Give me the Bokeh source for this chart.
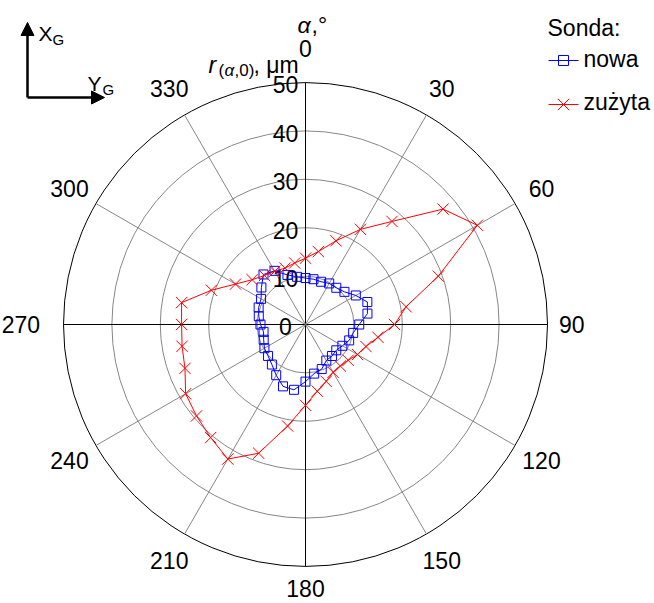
import numpy as np
from bokeh.plotting import figure
from bokeh.models import Arrow, NormalHead
from bokeh.core.properties import value
from bokeh.embed import file_html
from bokeh.resources import INLINE

# ---------------- data ----------------
angles_deg = list(range(0, 360, 10))
r_nowa = [9.6, 9.5, 9.4, 9.8, 9.9, 10.5, 12.0, 13.6, 13.0, 11.1, 10.0, 9.6,
          8.8, 8.3, 8.5, 8.6, 9.8, 10.3, 11.8, 13.7, 13.6, 12.1, 10.8, 10.1,
          9.8, 9.2, 8.8, 9.3, 9.8, 10.3, 10.6, 11.9, 13.5, 12.8, 10.9, 10.0]
r_zuzyta = [13.7, 15.3, 18.4, 22.7, 27.8, 37.1, 41.0, 29.2, 21.1, 18.4, 15.2, 13.3,
            12.4, 11.5, 11.2, 11.4, 12.5, 14.0, 16.7, 21.3, 28.3, 32.1, 30.5, 29.4,
            28.6, 26.5, 25.9, 25.6, 26.0, 20.7, 16.7, 14.4, 13.2, 12.7, 12.4, 12.9]
angle_ticks = [0, 30, 60, 90, 120, 150, 180, 210, 240, 270, 300, 330]
radial_ticks = [0, 10, 20, 30, 40, 50]
series_names = ["nowa", "zużyta"]
legend_title = "Sonda:"

# ---------------- layout ----------------
W, H = 654, 603
CX, CY = 305.0, 324.0      # pixel of the pole
S = 4.84                   # pixels per micrometre
FONT = value("Liberation Sans")
GRID = "#878787"


def px(x, y):
    return (x - CX) / S, (CY - y) / S


def pol(r, deg):
    t = np.radians(np.asarray(deg, dtype=float))
    r = np.asarray(r, dtype=float)
    return r * np.sin(t), r * np.cos(t)


p = figure(width=W, height=H, output_backend="svg", toolbar_location=None,
           x_range=(-CX / S, (W - CX) / S),
           y_range=((CY - H) / S, CY / S),
           x_axis_location=None, y_axis_location=None,
           min_border=0, outline_line_color=None)
p.xgrid.visible = False
p.ygrid.visible = False

rmax = radial_ticks[-1]
inner = radial_ticks[1:-1]
p.circle(x=[0] * len(inner), y=[0] * len(inner), radius=inner,
         fill_color=None, line_color=GRID, line_width=1)
p.circle(x=[0], y=[0], radius=[rmax], fill_color=None, line_color="black", line_width=1)

for a in angle_ticks:
    ex, ey = pol(rmax, a)
    col = "black" if a % 90 == 0 else GRID
    p.line([0, float(ex)], [0, float(ey)], line_color=col, line_width=1)

# angle labels
lab_r = {0: 57.0, 90: 55.0, 180: 54.6, 270: 58.8}
for a in angle_ticks:
    rr = lab_r.get(a, 56.3)
    lx, ly = pol(rr, a)
    p.text(x=[float(lx)], y=[float(ly)], text=[str(a)], text_font=FONT,
           text_font_size="23px", text_align="center", text_baseline="middle",
           text_color="black")

# radial labels
lx0 = (285 - CX) / S
p.text(x=[lx0] * len(radial_ticks), y=[t - 0.5 for t in radial_ticks],
       text=[str(t) for t in radial_ticks], text_font=FONT, text_font_size="23px",
       text_align="center", text_baseline="middle", text_color="black")

# series
a_closed = angles_deg + [angles_deg[0]]
bx, by = pol(r_nowa + [r_nowa[0]], a_closed)
rx, ry = pol(r_zuzyta + [r_zuzyta[0]], a_closed)
p.line(bx, by, line_color="#0000ff", line_width=1)
p.scatter(bx[:-1], by[:-1], marker="square", size=9, fill_color=None,
          line_color="#0000ff", line_width=1)
p.line(rx, ry, line_color="#ff0000", line_width=1)
p.scatter(rx[:-1], ry[:-1], marker="x", size=16, line_color="#ff0000", line_width=1)


def txt(x, y, s, size="23px", style="normal", align="left"):
    dx, dy = px(x, y)
    p.text(x=[dx], y=[dy], text=[s], text_font=FONT, text_font_size=size,
           text_font_style=style, text_align=align, text_baseline="middle",
           text_color="black")


# axis titles (y = visual middle)
txt(297, 24, "α", style="italic")
txt(311, 24, ",°")
txt(208, 64, "r", style="italic")
txt(218, 70, "(", size="17px")
txt(224, 70, "α", size="17px", style="italic")
txt(234, 70, ",0)", size="17px")
txt(253, 64, ", μm")

# coordinate-system arrows
x0, y0 = px(27, 97)
xt, yt = px(27, 22)
xr, yr = px(104, 97)
for (xe, ye) in [(xt, yt), (xr, yr)]:
    p.add_layout(Arrow(end=NormalHead(size=13, fill_color="black", line_color="black"),
                       x_start=x0, y_start=y0, x_end=xe, y_end=ye,
                       line_width=2.5, line_color="black"))
txt(38, 33, "X", size="21px")
txt(52, 39, "G", size="15px")
txt(87, 83, "Y", size="21px")
txt(102, 89, "G", size="15px")

# legend
txt(547, 27, legend_title)
lx1, ly1 = px(548, 60)
lx2, _ = px(578, 60)
mx, _ = px(563, 60)
p.line([lx1, lx2], [ly1, ly1], line_color="#0000ff", line_width=1)
p.scatter([mx], [ly1], marker="square", size=10, fill_color=None, line_color="#0000ff")
txt(583, 58, series_names[0])
_, ly2 = px(548, 104)
p.line([lx1, lx2], [ly2, ly2], line_color="#ff0000", line_width=1)
p.scatter([mx], [ly2], marker="x", size=16, line_color="#ff0000")
txt(583, 101, series_names[1])

open("out.html", "w").write(file_html(p, INLINE))
